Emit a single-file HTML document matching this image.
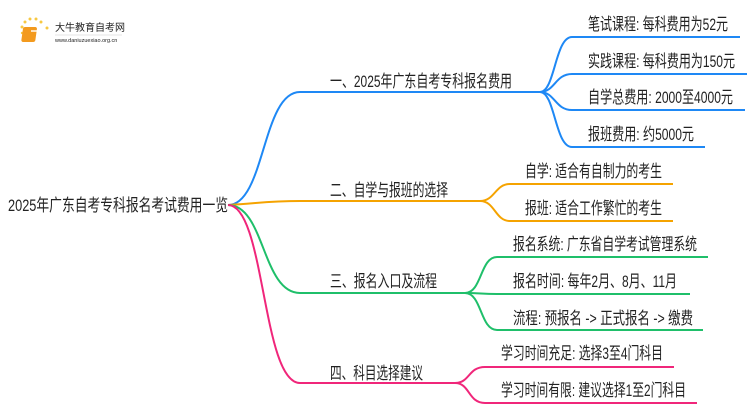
<!DOCTYPE html>
<html><head><meta charset="utf-8"><style>
body{margin:0;background:#fff;}
svg text{font-family:"Liberation Sans","Noto Sans CJK SC",sans-serif;fill:#222;}
</style></head><body>
<svg width="750" height="410" viewBox="0 0 750 410" xmlns="http://www.w3.org/2000/svg">
<g fill="#f7c842">
<circle cx="22" cy="27" r="1.5"/><circle cx="25" cy="22" r="1.5"/><circle cx="30" cy="19" r="1.5"/><circle cx="36" cy="19" r="1.5"/><circle cx="41" cy="22" r="1.5"/><circle cx="47" cy="28" r="1.5"/><circle cx="22" cy="33" r="1.2"/>
</g>
<rect x="27" y="27" width="14" height="15" rx="2" fill="#f39a1e" transform="skewX(-8)"/>
<rect x="31" y="30" width="8" height="2" fill="#fff" opacity="0.7"/>
<text x="55" y="31" font-size="10">大牛教育自考网</text>
<text x="55" y="42" font-size="5.5" fill="#666">www.daniuzuexiao.org.cn</text>
<line x1="55" y1="35" x2="122" y2="35" stroke="#ccc" stroke-width="0.5"/>

<g fill="none" stroke-width="2">
<g stroke="#1e88f5">
<path d="M228 205 C265 205 262 92 300 92 L540 92"/>
<path d="M540 92 C555 92 555 37 572 37 L740 37"/>
<path d="M540 92 C555 92 555 74 572 74 L747 74"/>
<path d="M540 92 C555 92 555 110 572 110 L745 110"/>
<path d="M540 92 C555 92 555 147 572 147 L705 147"/>
</g>
<g stroke="#f5a300">
<path d="M228 205 C260 203 270 201 300 201 L480 201"/>
<path d="M480 201 C495 201 495 184 510 184 L673 184"/>
<path d="M480 201 C495 201 495 221 510 221 L673 221"/>
</g>
<g stroke="#1fbf6a">
<path d="M228 205 C265 205 262 293 300 293 L465 293"/>
<path d="M465 293 C482 293 480 257 497 257 L708 257"/>
<path d="M465 293 C482 293 480 294 497 294 L690 294"/>
<path d="M465 293 C482 293 480 330 497 330 L703 330"/>
</g>
<g stroke="#f0267a">
<path d="M228 205 C265 205 262 383 300 383 L455 383"/>
<path d="M455 383 C470 383 468 367 485 367 L674 367"/>
<path d="M455 383 C470 383 468 403 485 403 L697 403"/>
</g>
</g>
<g font-size="17">
<text x="8" y="211" textLength="220" lengthAdjust="spacingAndGlyphs">2025年广东自考专科报名考试费用一览</text>
<text x="330" y="87" textLength="182" lengthAdjust="spacingAndGlyphs">一、2025年广东自考专科报名费用</text>
<text x="588" y="30" textLength="140" lengthAdjust="spacingAndGlyphs">笔试课程: 每科费用为52元</text>
<text x="588" y="67" textLength="147" lengthAdjust="spacingAndGlyphs">实践课程: 每科费用为150元</text>
<text x="588" y="103" textLength="145" lengthAdjust="spacingAndGlyphs">自学总费用: 2000至4000元</text>
<text x="588" y="140" textLength="106" lengthAdjust="spacingAndGlyphs">报班费用: 约5000元</text>
<text x="330" y="196" textLength="118" lengthAdjust="spacingAndGlyphs">二、自学与报班的选择</text>
<text x="525" y="177" textLength="137" lengthAdjust="spacingAndGlyphs">自学: 适合有自制力的考生</text>
<text x="525" y="214" textLength="137" lengthAdjust="spacingAndGlyphs">报班: 适合工作繁忙的考生</text>
<text x="330" y="287" textLength="107" lengthAdjust="spacingAndGlyphs">三、报名入口及流程</text>
<text x="513" y="250" textLength="184" lengthAdjust="spacingAndGlyphs">报名系统: 广东省自学考试管理系统</text>
<text x="513" y="287" textLength="164" lengthAdjust="spacingAndGlyphs">报名时间: 每年2月、8月、11月</text>
<text x="513" y="324" textLength="180" lengthAdjust="spacingAndGlyphs">流程: 预报名 -&gt; 正式报名 -&gt; 缴费</text>
<text x="330" y="379" textLength="93" lengthAdjust="spacingAndGlyphs">四、科目选择建议</text>
<text x="501" y="359" textLength="162" lengthAdjust="spacingAndGlyphs">学习时间充足: 选择3至4门科目</text>
<text x="501" y="396" textLength="185" lengthAdjust="spacingAndGlyphs">学习时间有限: 建议选择1至2门科目</text>
</g>
</svg>
</body></html>
